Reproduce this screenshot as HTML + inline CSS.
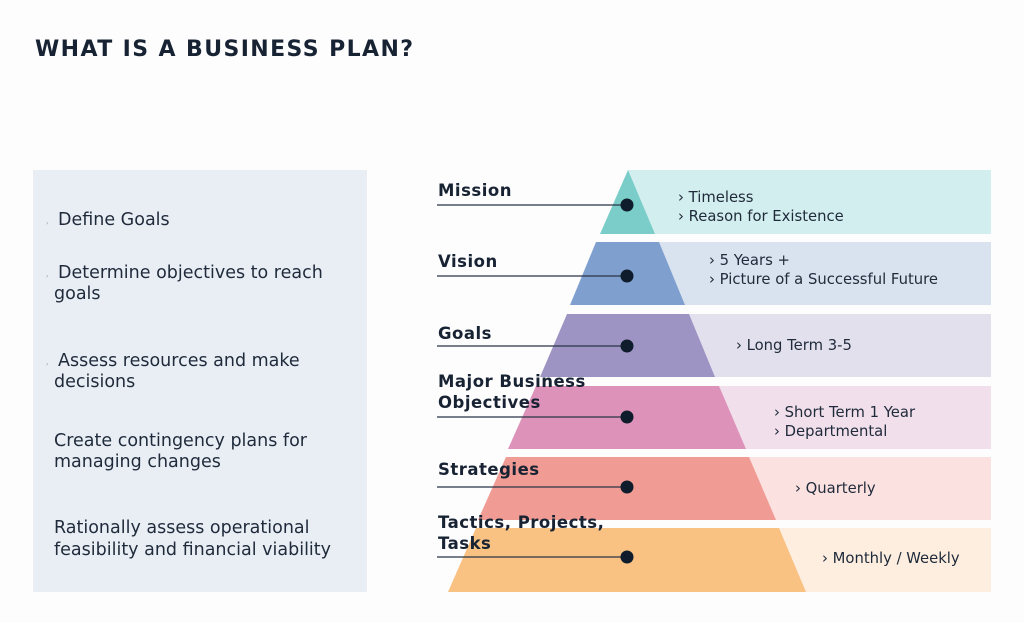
<!DOCTYPE html>
<html><head><meta charset="utf-8"><style>
html,body{margin:0;padding:0;background:#fff;}
svg{display:block;font-family:"DejaVu Sans","Liberation Sans",sans-serif;}
</style></head><body>
<svg width="1024" height="623" viewBox="0 0 1024 623" xmlns="http://www.w3.org/2000/svg">
<rect width="1024" height="623" fill="#fdfdfe"/>
<text x="35" y="56" font-size="22" font-weight="bold" fill="#172233" letter-spacing="1.4">WHAT IS A BUSINESS PLAN?</text>
<rect x="33" y="170" width="334" height="422" fill="#e9eef5"/>
<g font-size="17.5" fill="#1f2a3a">
<text x="46" y="225" font-size="6" fill="#999">›</text><text x="58" y="225">Define Goals</text>
<text x="46" y="278" font-size="6" fill="#999">›</text><text x="58" y="278">Determine objectives to reach</text><text x="54" y="299">goals</text>
<text x="46" y="366" font-size="6" fill="#999">›</text><text x="58" y="366">Assess resources and make</text><text x="54" y="387">decisions</text>
<text x="54" y="446">Create contingency plans for</text><text x="54" y="467">managing changes</text>
<text x="54" y="533">Rationally assess operational</text><text x="54" y="555">feasibility and financial viability</text>
</g>
<rect x="628" y="170" width="363" height="64" fill="#d3eeee"/>
<rect x="628" y="242" width="363" height="63" fill="#d9e3ef"/>
<rect x="628" y="314" width="363" height="63" fill="#e3e0ee"/>
<rect x="628" y="386" width="363" height="63" fill="#f1e0eb"/>
<rect x="628" y="457" width="363" height="63" fill="#fbe1e0"/>
<rect x="628" y="528" width="363" height="64" fill="#fdeee0"/>
<polygon points="628,170 655,234 600,234" fill="#7acdc8"/>
<polygon points="659,242 685,305 570,305 596,242" fill="#7fa0cf"/>
<polygon points="689,314 715,377 540,377 567,314" fill="#9e94c4"/>
<polygon points="719,386 746,449 508,449 536,386" fill="#dd92ba"/>
<polygon points="749,457 776,520 478,520 506,457" fill="#f09b93"/>
<polygon points="779,528 806,592 448,592 476,528" fill="#f9c182"/>
<g stroke="#2a3444" stroke-width="1.2">
<line x1="437" y1="205" x2="627" y2="205"/><line x1="437" y1="276" x2="627" y2="276"/>
<line x1="437" y1="346" x2="627" y2="346"/><line x1="437" y1="417" x2="627" y2="417"/>
<line x1="437" y1="487" x2="627" y2="487"/><line x1="437" y1="557" x2="627" y2="557"/>
</g>
<g fill="#0f1c2c">
<circle cx="627" cy="205" r="6.5"/><circle cx="627" cy="276" r="6.5"/><circle cx="627" cy="346" r="6.5"/>
<circle cx="627" cy="417" r="6.5"/><circle cx="627" cy="487" r="6.5"/><circle cx="627" cy="557" r="6.5"/>
</g>
<g font-size="16.5" font-weight="bold" fill="#172233" letter-spacing="0.5">
<text x="438" y="196">Mission</text>
<text x="438" y="267">Vision</text>
<text x="438" y="339">Goals</text>
<text x="438" y="387">Major Business</text><text x="438" y="408">Objectives</text>
<text x="438" y="475">Strategies</text>
<text x="438" y="528">Tactics, Projects,</text><text x="438" y="549">Tasks</text>
</g>
<g font-size="14.8" fill="#1f2a3a">
<text x="678" y="202">› Timeless</text><text x="678" y="221">› Reason for Existence</text>
<text x="709" y="265">› 5 Years +</text><text x="709" y="284">› Picture of a Successful Future</text>
<text x="736" y="350">› Long Term 3-5</text>
<text x="774" y="417">› Short Term 1 Year</text><text x="774" y="436">› Departmental</text>
<text x="795" y="493">› Quarterly</text>
<text x="822" y="563">› Monthly / Weekly</text>
</g>
</svg>
</body></html>
